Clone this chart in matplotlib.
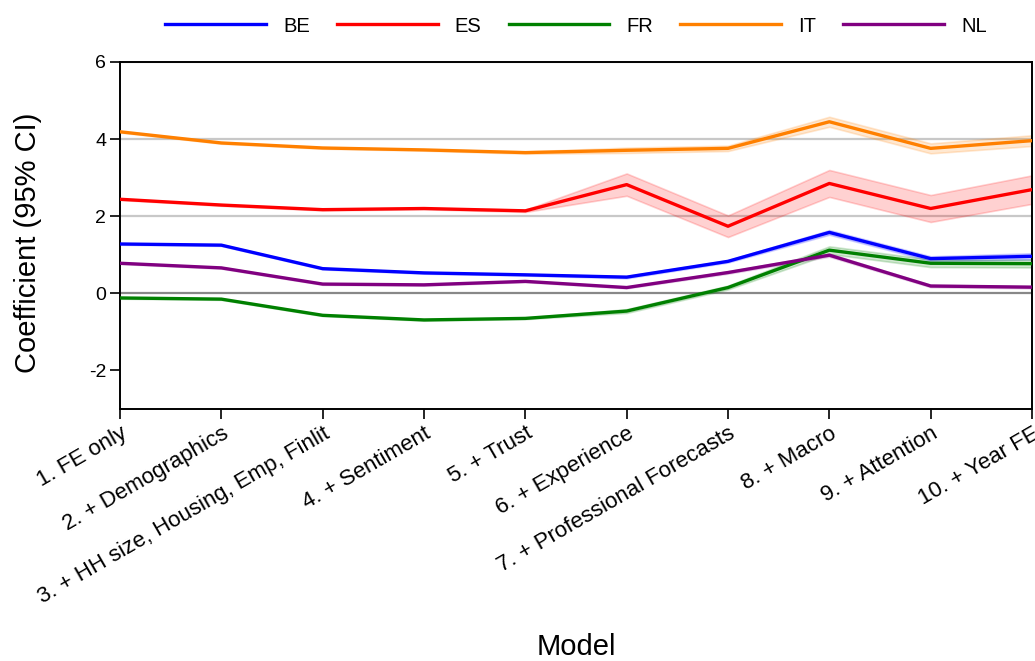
import matplotlib
matplotlib.use("Agg")
import matplotlib.pyplot as plt
import numpy as np

plt.rcParams['font.family'] = ['Liberation Sans', 'DejaVu Sans']

models = ["1. FE only", "2. + Demographics", "3. + HH size, Housing, Emp, Finlit",
          "4. + Sentiment", "5. + Trust", "6. + Experience",
          "7. + Professional Forecasts", "8. + Macro", "9. + Attention", "10. + Year FE"]

countries = ["BE", "ES", "FR", "IT", "NL"]
colors = {"BE": "#0000ff", "ES": "#ff0000", "FR": "#008000", "IT": "#ff8000", "NL": "#800080"}

be_coef = [1.28, 1.25, 0.64, 0.53, 0.48, 0.42, 0.83, 1.58, 0.90, 0.96]
be_half = [0.02, 0.02, 0.02, 0.02, 0.02, 0.03, 0.03, 0.06, 0.06, 0.08]
es_coef = [2.44, 2.29, 2.17, 2.20, 2.14, 2.82, 1.74, 2.85, 2.20, 2.69]
es_half = [0.02, 0.02, 0.02, 0.02, 0.03, 0.29, 0.28, 0.35, 0.35, 0.37]
fr_coef = [-0.12, -0.15, -0.57, -0.69, -0.65, -0.46, 0.15, 1.12, 0.78, 0.77]
fr_half = [0.02, 0.02, 0.02, 0.02, 0.02, 0.05, 0.05, 0.10, 0.10, 0.10]
it_coef = [4.19, 3.90, 3.77, 3.72, 3.65, 3.71, 3.76, 4.45, 3.76, 3.96]
it_half = [0.02, 0.02, 0.02, 0.02, 0.03, 0.07, 0.07, 0.13, 0.13, 0.14]
nl_coef = [0.78, 0.66, 0.24, 0.22, 0.31, 0.15, 0.54, 0.99, 0.19, 0.16]
nl_half = [0.02, 0.02, 0.02, 0.02, 0.02, 0.02, 0.03, 0.04, 0.03, 0.03]

series = {"BE": (be_coef, be_half), "ES": (es_coef, es_half), "FR": (fr_coef, fr_half),
          "IT": (it_coef, it_half), "NL": (nl_coef, nl_half)}

W, H = 1035, 661
fig = plt.figure(figsize=(W / 100, H / 100), dpi=100)
ax = fig.add_axes([120 / W, 1 - 409 / H, (1032 - 120) / W, (409 - 62) / H])

x = np.arange(len(models))
for yv in [2, 4, 6]:
    ax.axhline(yv, color="#c8c8c8", lw=1.6, zorder=1)
ax.axhline(0, color="#888888", lw=1.6, zorder=1)

handles = []
for c in countries:
    coef, half = series[c]
    coef = np.array(coef)
    half = np.array(half)
    ax.fill_between(x, coef - half, coef + half, color=colors[c], alpha=0.18,
                    lw=1.2, zorder=2)
    h, = ax.plot(x, coef, color=colors[c], lw=2.4, zorder=3, label=c)
    handles.append(h)

ax.set_xlim(0, len(models) - 1)
ax.set_ylim(-3, 6)
ax.set_yticks([-2, 0, 2, 4, 6])
ax.set_yticklabels(["-2", "0", "2", "4", "6"])
ax.set_xticks(x)
ax.set_xticklabels(models, rotation=30, ha="right", va="top", rotation_mode="anchor")
ax.tick_params(axis="x", labelsize=16, length=7, width=1.2, pad=3, direction="out")
ax.tick_params(axis="y", labelsize=14, length=7, width=1.2, pad=3, direction="out")
for s in ax.spines.values():
    s.set_linewidth(1.4)
    s.set_color("black")

ax.set_ylabel("Coefficient (95% CI)", fontsize=21)
ax.yaxis.set_label_coords(-0.085, 0.48)
ax.set_xlabel("Model", fontsize=21)
ax.xaxis.set_label_coords(0.5, -0.71)
ax.xaxis.label.set_verticalalignment("baseline")

fig.legend(handles=handles, labels=countries, loc="center",
           bbox_to_anchor=(0.5565, 1 - 26 / H), ncol=5, frameon=False,
           fontsize=14.5, handlelength=5.0, handletextpad=0.85, columnspacing=1.35)

fig.savefig("out.png", dpi=100)
